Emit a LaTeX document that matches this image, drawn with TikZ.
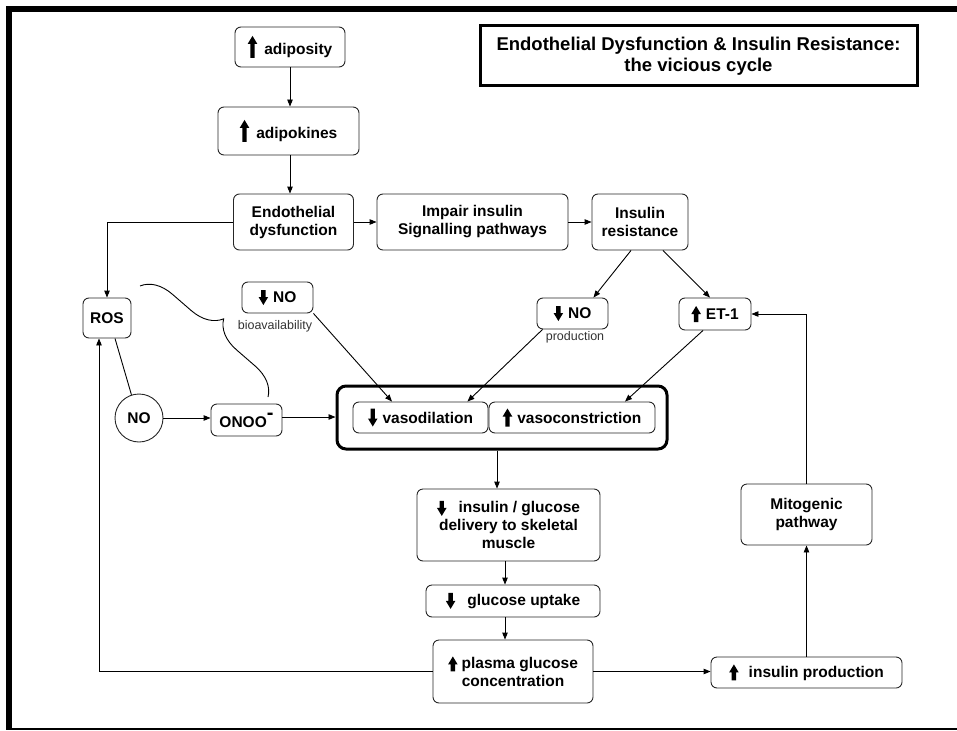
\documentclass[tikz,border=0pt]{standalone}
\usepackage{fontspec}
\setmainfont{Liberation Sans}
\usetikzlibrary{arrows.meta,calc,decorations.pathreplacing}
\newcommand{\mainfnt}{\fontsize{15.5}{18}\selectfont\bfseries}
\newcommand{\titlefnt}{\fontsize{18.5}{21}\selectfont\bfseries}
\newcommand{\smallfnt}{\fontsize{12.5}{14}\selectfont}
\newcommand{\upA}[1]{\tikz[x=1pt,y=1pt,baseline=3pt,sharp corners,line width=0pt]{\fill (-2.2,0) -- (-2.2,{#1-8}) -- (-4.8,{#1-8}) -- (0,#1) -- (4.8,{#1-8}) -- (2.2,{#1-8}) -- (2.2,0) -- cycle;}}
\newcommand{\dnA}[1]{\tikz[x=1pt,y=1pt,baseline=3pt,sharp corners,line width=0pt]{\fill (-2.2,#1) -- (-2.2,8) -- (-4.8,8) -- (0,0) -- (4.8,8) -- (2.2,8) -- (2.2,#1) -- cycle;}}
\tikzset{
  box/.style={draw=black!85, rounded corners=6pt, line width=0.9pt, align=center, inner sep=0pt, font=\mainfnt},
  bigbox/.style={draw=black, rounded corners=9pt, line width=3pt, inner sep=0pt},
  titlebox/.style={draw=black, line width=3pt, align=center, inner sep=0pt, font=\titlefnt},
  lbl/.style={font=\smallfnt, text=black!80, inner sep=0pt},
  arr/.style={-{Triangle[length=7pt,width=5.5pt]}, line width=0.9pt},
  link/.style={line width=0.9pt}
}
\begin{document}
\begin{tikzpicture}[x=1pt,y=-1pt]
\useasboundingbox (0,0) rectangle (957,730);
% frame bars
\fill (6,6) rectangle (12,730);
\fill (6,6) rectangle (957,12);
\fill (6,727.5) rectangle (957,730);

% title
\node[titlebox, minimum width=437pt, minimum height=60pt] (title) at (698.5,56)
  {Endothelial Dysfunction \& Insulin Resistance:\\the vicious cycle};

% top chain
\node[box, minimum width=110pt, minimum height=40pt] (adip) at (290,47) {\upA{22}\hspace{7pt}adiposity};
\node[box, minimum width=141pt, minimum height=48pt] (adipok) at (288.5,131) {\upA{22}\hspace{7pt}adipokines};
\node[box, minimum width=120pt, minimum height=56pt] (endo) at (293.5,222) {Endothelial\\dysfunction};
\node[box, minimum width=191pt, minimum height=56pt] (impair) at (472.5,222) {Impair insulin\\Signalling pathways};
\node[box, minimum width=96pt, minimum height=56pt] (insres) at (640,222) {Insulin\\resistance};

% left cluster
\node[box, minimum width=48pt, minimum height=40pt] (ROS) at (107,318) {ROS};
\node[draw=black!85, circle, minimum size=48pt, inner sep=0pt, line width=0.9pt, font=\mainfnt] (NOc) at (139,418) {NO};
\node[box, minimum width=71pt, minimum height=32pt] (onoo) at (246.5,420) {\raisebox{-2pt}{ONOO}\raisebox{6pt}{\fontsize{20}{20}\selectfont -}};

% NO boxes and ET-1
\node[box, minimum width=71pt, minimum height=31pt] (nobio) at (277.5,297.5) {\dnA{15}\hspace{5pt}NO};
\node[lbl] (biolbl) at (275,326) {bioavailability};
\node[box, minimum width=71pt, minimum height=31pt] (noprod) at (572.5,313.5) {\dnA{15}\hspace{5pt}NO};
\node[lbl] (prodlbl) at (575,337) {production};
\node[box, minimum width=72pt, minimum height=32pt] (et1) at (715,314) {\upA{16}\hspace{5pt}ET-1};

% vessel box
\node[bigbox, minimum width=330pt, minimum height=63pt] (big) at (502,417.5) {};
\node[box, minimum width=135pt, minimum height=31pt] (vasodil) at (420.5,417.5) {\dnA{18}\hspace{5pt}vasodilation};
\node[box, minimum width=166pt, minimum height=31pt] (vasocon) at (572,417.5) {\upA{18}\hspace{5pt}vasoconstriction};

% lower chain
\node[box, minimum width=183pt, minimum height=72pt] (deliv) at (508.5,525) {\dnA{15}\hspace{12pt}insulin / glucose\\delivery to skeletal\\muscle};
\node[box, minimum width=174pt, minimum height=32pt] (uptake) at (513,601) {\dnA{16}\hspace{12pt}glucose uptake};
\node[box, minimum width=160pt, minimum height=63pt] (plasma) at (513,671.5) {\upA{15}\hspace{4pt}plasma glucose\\concentration};
\node[box, minimum width=191pt, minimum height=31pt] (insprod) at (806.5,672.5) {\upA{16}\hspace{10pt}insulin production};
\node[box, minimum width=131pt, minimum height=61pt] (mito) at (806.5,514.5) {Mitogenic\\pathway};

% brace
\draw[link, decorate, decoration={brace, amplitude=30pt}] (140,286) -- (268,397);

% connectors
\draw[arr] (adip.south) -- (adip.south |- adipok.north);
\draw[arr] (adip.south |- adipok.south) -- (adip.south |- endo.north);
\draw[arr] (endo.east) -- (impair.west);
\draw[arr] (impair.east) -- (insres.west);
\draw[arr] (endo.west) -| (ROS.north);
\draw[arr] ($(insres.south)+(-9,0)$) -- ($(noprod.north east)+(-15,0)$);
\draw[arr] ($(insres.south)+(23,0)$) -- ($(et1.north)+(-5,0)$);
\draw[arr] (nobio.south east) -- ($(vasodil.north)+(-28.5,0)$);
\draw[arr] ($(noprod.south west)+(6,0)$) -- ($(vasodil.north east)+(-21,0)$);
\draw[arr] ($(et1.south)+(-12,0)$) -- ($(vasocon.north)+(53,0)$);
\draw[link] ($(ROS.south)+(8,0)$) -- (NOc.108);
\draw[arr] (NOc.east) -- (NOc.east -| onoo.west);
\draw[arr] ($(onoo.east)+(0,-3)$) -- ($(onoo.east -| big.west)+(0,-3)$);
\draw[arr] ($(big.south)+(-5,0)$) -- ($(deliv.north)+(-11.5,0)$);
\draw[arr] ($(deliv.south)+(-3.5,0)$) -- ($(uptake.north)+(-8,0)$);
\draw[arr] ($(uptake.south)+(-8,0)$) -- ($(plasma.north)+(-8,0)$);
\draw[arr] (plasma.west) -| ($(ROS.south)+(-8,0)$);
\draw[arr] (plasma.east) -- (plasma.east -| insprod.west);
\draw[arr] (insprod.north) -- (mito.south);
\draw[arr] (mito.north) |- (et1.east);
\end{tikzpicture}
\end{document}
